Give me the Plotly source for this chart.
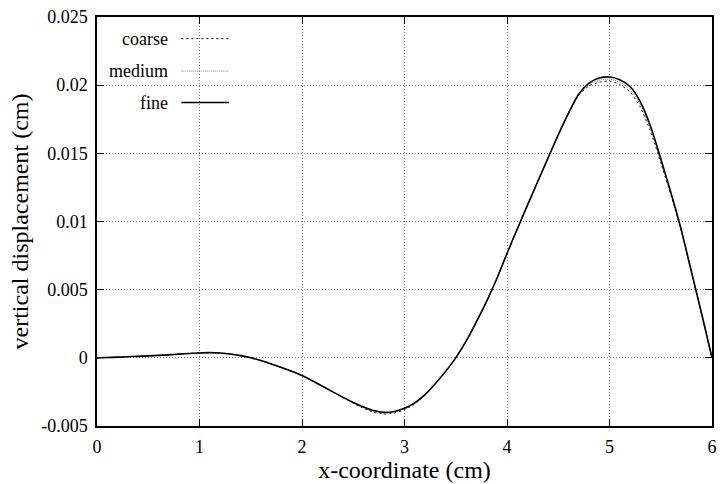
import plotly.graph_objects as go

# ---- data ----
x_pts = [0.0, 0.1, 0.2, 0.3, 0.4, 0.5, 0.6, 0.7, 0.8, 0.9,
         1.0, 1.1, 1.2, 1.3, 1.4, 1.5, 1.6, 1.7, 1.8, 1.9,
         2.0, 2.1, 2.2, 2.3, 2.4, 2.5, 2.6, 2.7, 2.8, 2.9,
         3.0, 3.1, 3.2, 3.3, 3.4, 3.5, 3.6, 3.7, 3.8, 3.9,
         4.0, 4.1, 4.2, 4.3, 4.4, 4.5, 4.6, 4.7, 4.8, 4.9,
         5.0, 5.1, 5.2, 5.3, 5.4, 5.5, 5.6, 5.7, 5.8, 5.9, 6.0]

fine = [0, 0.00002, 0.00005, 0.00008, 0.00011, 0.00014, 0.00018, 0.00022, 0.00027, 0.00032,
        0.00036, 0.00038, 0.00035, 0.00028, 0.00016, 0.00001, -0.00020, -0.00045, -0.00071, -0.00099,
        -0.00130, -0.00168, -0.00208, -0.00250, -0.00290, -0.00327, -0.00360, -0.00387, -0.00400, -0.00393,
        -0.00370, -0.00330, -0.00270, -0.00190, -0.00100, 0.00000, 0.00120, 0.00262, 0.00412, 0.00580,
        0.00765, 0.00945, 0.01120, 0.01293, 0.01465, 0.01635, 0.01795, 0.01935, 0.02015, 0.02052,
        0.02060, 0.02040, 0.01990, 0.01880, 0.01700, 0.01460, 0.01210, 0.00940, 0.00630, 0.00320, 0.0]

medium = [0, 0.00002, 0.00005, 0.00008, 0.00011, 0.00014, 0.00018, 0.00022, 0.00027, 0.00032,
          0.00036, 0.00038, 0.00035, 0.00028, 0.00016, 0.00001, -0.00020, -0.00045, -0.00071, -0.00099,
          -0.00130, -0.00168, -0.00208, -0.00250, -0.00290, -0.00330, -0.00365, -0.00393, -0.00406, -0.00399,
          -0.00375, -0.00334, -0.00272, -0.00190, -0.00100, 0.00000, 0.00120, 0.00262, 0.00412, 0.00580,
          0.00765, 0.00945, 0.01120, 0.01293, 0.01465, 0.01635, 0.01795, 0.01930, 0.02005, 0.02037,
          0.02045, 0.02022, 0.01970, 0.01860, 0.01680, 0.01445, 0.01200, 0.00935, 0.00630, 0.00320, 0.0]

coarse = [0, 0.00002, 0.00005, 0.00008, 0.00011, 0.00014, 0.00018, 0.00022, 0.00027, 0.00032,
          0.00036, 0.00038, 0.00035, 0.00028, 0.00016, 0.00001, -0.00020, -0.00045, -0.00071, -0.00099,
          -0.00130, -0.00168, -0.00208, -0.00250, -0.00290, -0.00332, -0.00370, -0.00399, -0.00412, -0.00405,
          -0.00380, -0.00338, -0.00275, -0.00190, -0.00100, 0.00000, 0.00120, 0.00262, 0.00412, 0.00580,
          0.00765, 0.00945, 0.01120, 0.01293, 0.01465, 0.01635, 0.01795, 0.01925, 0.01995, 0.02022,
          0.02030, 0.02005, 0.01950, 0.01840, 0.01660, 0.01430, 0.01190, 0.00930, 0.00625, 0.00318, 0.0]

series_names = ["coarse", "medium", "fine"]
x_ticks = [0, 1, 2, 3, 4, 5, 6]
y_ticks = [-0.005, 0, 0.005, 0.01, 0.015, 0.02, 0.025]
y_tick_labels = ["-0.005", "0", "0.005", "0.01", "0.015", "0.02", "0.025"]

styles = {
    "coarse": dict(color="black", width=1, dash="2px,3px"),
    "medium": dict(color="#777777", width=1, dash="1px,1px"),
    "fine": dict(color="black", width=1.6, dash="solid"),
}
values = {"coarse": coarse, "medium": medium, "fine": fine}

FONT = "Liberation Serif"
W, H = 724, 484
L, R, T, B = 97, 7.5, 16, 52
pw, ph = W - L - R, H - T - B

def px(xp):
    return (xp - L) / pw

def py(yp):
    return (H - B - yp) / ph

fig = go.Figure()
for name in series_names:
    fig.add_trace(go.Scatter(x=x_pts, y=values[name], mode="lines", name=name,
                             line=dict(shape="spline", smoothing=0.6, **styles[name]),
                             showlegend=False))

shapes = [dict(type="rect", xref="paper", yref="paper", x0=px(98), x1=px(243),
               y0=py(118), y1=py(17.5), fillcolor="white", line=dict(width=0),
               layer="between")]
annotations = []
key_rows = [38, 71, 103]
for name, yrow in zip(series_names, key_rows):
    shapes.append(dict(type="line", xref="paper", yref="paper", x0=px(182), x1=px(230),
                       y0=py(yrow), y1=py(yrow), line=styles[name]))
    annotations.append(dict(xref="paper", yref="paper", x=px(171), y=py(yrow),
                            xanchor="right", yanchor="middle", text=name,
                            showarrow=False, font=dict(family=FONT, size=18, color="black")))

axis_common = dict(showline=True, linecolor="black", linewidth=1.5, mirror="ticks",
                   ticks="inside", ticklen=7, tickcolor="black", tickwidth=1,
                   showgrid=True, gridcolor="#777777", griddash="1px,2px", gridwidth=1,
                   zeroline=False, tickfont=dict(family=FONT, size=18, color="black"))

fig.update_layout(
    width=W, height=H, margin=dict(l=L, r=R, t=T, b=B),
    paper_bgcolor="white", plot_bgcolor="white",
    font=dict(family=FONT, color="black"),
    xaxis=dict(range=[0, 6], tickvals=x_ticks, ticklabelstandoff=4,
               title=dict(text="x-coordinate (cm)", standoff=2,
                          font=dict(family=FONT, size=24, color="black")),
               **axis_common),
    yaxis=dict(range=[-0.005, 0.025], tickvals=y_ticks, ticktext=y_tick_labels,
               ticklabelstandoff=4,
               title=dict(text="vertical displacement (cm)", standoff=6,
                          font=dict(family=FONT, size=24, color="black")),
               **axis_common),
    shapes=shapes, annotations=annotations, showlegend=False,
)

fig.write_html("out.html")
